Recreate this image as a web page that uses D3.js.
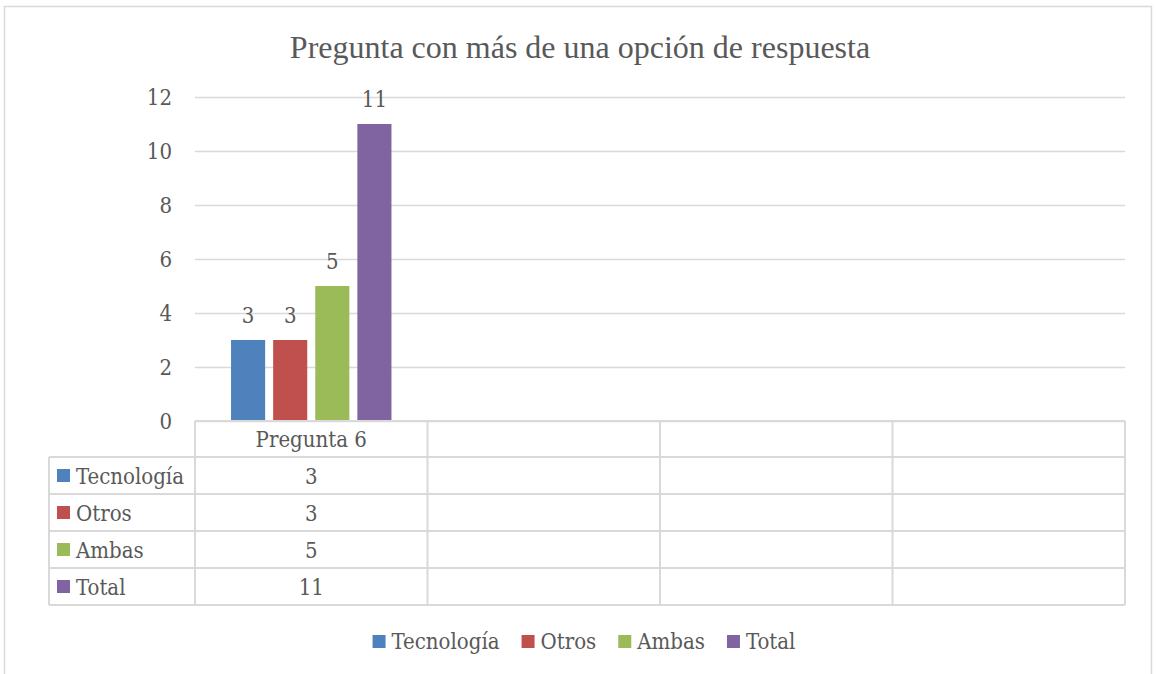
<!DOCTYPE html>
<html>
<head>
<meta charset="utf-8">
<script src="https://cdn.jsdelivr.net/npm/d3@7"></script>
<style>
  body { margin: 0; background: #fff; }
  text { fill: #595959; }
</style>
</head>
<body>
<div id="chart"></div>
<script>
// chart data
const title = "Pregunta con más de una opción de respuesta";
const categories = ["Pregunta 6", "", "", ""];
const seriesNames = ["Tecnología", "Otros", "Ambas", "Total"];
const seriesValues = [[3], [3], [5], [11]];   // one list per series, by category
const seriesColors = ["#4F81BD", "#C0504D", "#9BBB59", "#8064A2"];
const yTicks = [0, 2, 4, 6, 8, 10, 12];

const width = 1156, height = 674;
const margin = { top: 97, left: 195, right: 31 };
const plotBottom = 421;
const rowH = 37;
const labelColLeft = 49;
const font = "'DejaVu Serif Condensed', 'DejaVu Serif', serif";
const fontSize = "22px";
const grid = "#D9D9D9";

const svg = d3.select("#chart").append("svg")
    .attr("width", width)
    .attr("height", height);

// outer frame
svg.append("rect")
    .attr("x", 4.5).attr("y", 6.5)
    .attr("width", 1147).attr("height", 700)
    .attr("fill", "none").attr("stroke", grid).attr("stroke-width", 1.5);

// title
svg.append("text")
    .attr("x", 580).attr("y", 58)
    .attr("text-anchor", "middle")
    .style("font-family", "'Liberation Serif', 'Times New Roman', serif")
    .style("font-size", "32px")
    .text(title);

// scales
const x = d3.scaleBand()
    .domain(d3.range(categories.length))
    .range([margin.left, width - margin.right]);

const y = d3.scaleLinear()
    .domain([0, 12])
    .range([plotBottom, margin.top]);

const xs = d3.scaleBand()
    .domain(seriesNames)
    .range([x.bandwidth() * 0.155, x.bandwidth() * 0.845])
    .paddingInner(0.19);

// gridlines + y labels
const yAxis = d3.axisLeft(y).tickValues(yTicks)
    .tickSize(-(width - margin.right - margin.left))
    .tickPadding(23);

const gy = svg.append("g")
    .attr("transform", `translate(${margin.left},0)`)
    .call(yAxis);
gy.select(".domain").remove();
gy.selectAll(".tick line").attr("stroke", grid).attr("stroke-width", 1.5);
gy.selectAll(".tick text")
    .attr("fill", "#595959")
    .style("font-family", font)
    .style("font-size", fontSize);

// bars
seriesNames.forEach((name, si) => {
  const vals = seriesValues[si];
  const g = svg.append("g");
  g.selectAll("rect")
      .data(vals)
      .join("rect")
      .attr("x", (d, i) => x(i) + xs(name))
      .attr("y", d => y(d))
      .attr("width", xs.bandwidth())
      .attr("height", d => y(0) - y(d))
      .attr("fill", seriesColors[si]);
  g.selectAll("text")
      .data(vals)
      .join("text")
      .attr("x", (d, i) => x(i) + xs(name) + xs.bandwidth() / 2)
      .attr("y", d => y(d) - 17)
      .attr("text-anchor", "middle")
      .style("font-family", font)
      .style("font-size", fontSize)
      .text(d => d);
});

// data table
const table = svg.append("g");
const tableTop = plotBottom;
const headerBottom = tableTop + 36;
const tableBottom = headerBottom + rowH * seriesNames.length;
const tableRight = width - margin.right;

const line = (x1, y1, x2, y2) => table.append("line")
    .attr("x1", x1).attr("y1", y1).attr("x2", x2).attr("y2", y2)
    .attr("stroke", grid).attr("stroke-width", 2);

line(margin.left, tableTop, tableRight, tableTop);
d3.range(categories.length + 1).forEach(i => {
  const cx = i < categories.length ? x(i) : tableRight;
  line(cx, tableTop, cx, tableBottom);
});
line(labelColLeft, headerBottom, labelColLeft, tableBottom);
d3.range(seriesNames.length + 1).forEach(r => {
  line(labelColLeft, headerBottom + r * rowH, tableRight, headerBottom + r * rowH);
});

// category header
table.selectAll(".cat")
    .data(categories)
    .join("text")
    .attr("x", (d, i) => x(i) + x.bandwidth() / 2)
    .attr("y", tableTop + 26)
    .attr("text-anchor", "middle")
    .style("font-family", font)
    .style("font-size", fontSize)
    .text(d => d);

// series rows
seriesNames.forEach((name, si) => {
  const rowY = headerBottom + si * rowH;
  table.append("rect")
      .attr("x", 57).attr("y", rowY + 12)
      .attr("width", 13).attr("height", 13)
      .attr("fill", seriesColors[si]);
  table.append("text")
      .attr("x", 76).attr("y", rowY + 27)
      .style("font-family", font)
      .style("font-size", fontSize)
      .text(name);
  table.selectAll(null)
      .data(seriesValues[si])
      .join("text")
      .attr("x", (d, i) => x(i) + x.bandwidth() / 2)
      .attr("y", rowY + 27)
      .attr("text-anchor", "middle")
      .style("font-family", font)
      .style("font-size", fontSize)
      .text(d => d);
});

// legend
const legend = svg.append("g");
const items = legend.selectAll("g")
    .data(seriesNames)
    .join("g");
items.append("rect")
    .attr("width", 13).attr("height", 13)
    .attr("y", -14)
    .attr("fill", (d, i) => seriesColors[i]);
items.append("text")
    .attr("x", 19)
    .style("font-family", font)
    .style("font-size", fontSize)
    .text(d => d);

let offset = 0;
items.each(function () {
  const w = this.querySelector("text").getComputedTextLength() + 19;
  d3.select(this).attr("transform", `translate(${offset},0)`);
  offset += w + 22;
});
const legendW = offset - 22;
legend.attr("transform", `translate(${584 - legendW / 2},649)`);
</script>
</body>
</html>
